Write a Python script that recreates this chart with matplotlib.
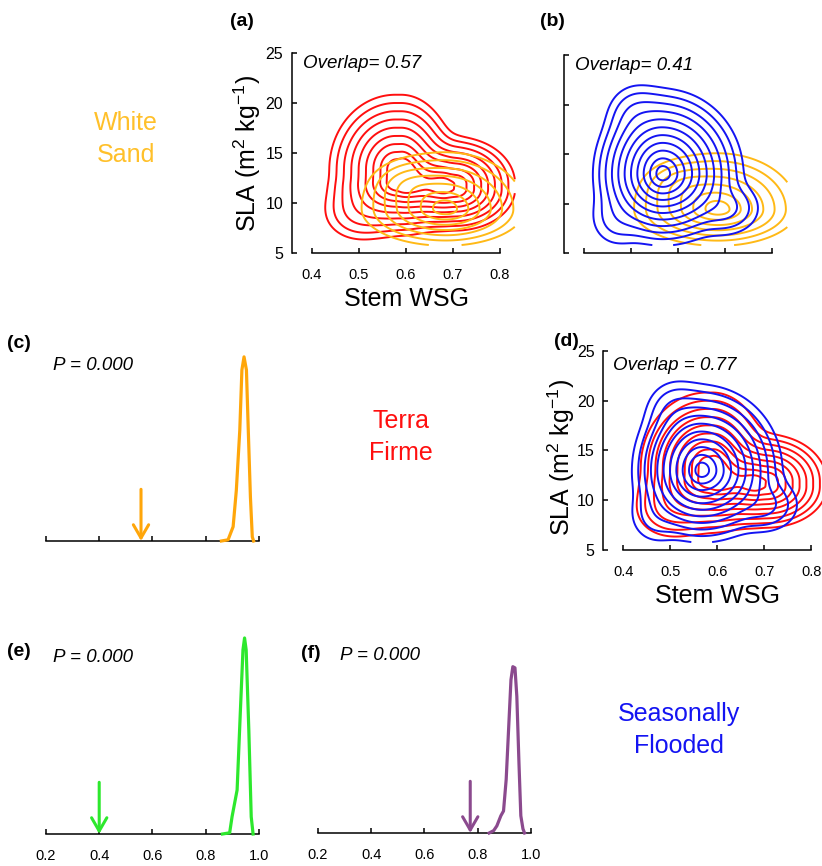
import numpy as np
import matplotlib
matplotlib.use('Agg')
import matplotlib.pyplot as plt

plt.rcParams['font.family'] = ['Liberation Sans', 'DejaVu Sans']
plt.rcParams['mathtext.fontset'] = 'custom'
plt.rcParams['mathtext.rm'] = 'Liberation Sans'
plt.rcParams['mathtext.it'] = 'Liberation Sans:italic'

# ---------------- data ----------------
# Bivariate trait densities (x = Stem WSG, y = SLA) described as a few
# flat-topped split-normal components: core x-range, core y-range,
# spreads (left, right, low, high) and relative height.
# White sand
ws_x0 = [0.685, 0.60]
ws_x1 = [0.685, 0.60]
ws_y0 = [9.4, 12.0]
ws_y1 = [9.4, 12.0]
ws_sxl = [0.085, 0.04]
ws_sxr = [0.08, 0.04]
ws_syl = [1.75, 1.2]
ws_syh = [2.7, 1.2]
ws_w = [1.0, 0.15]
ws_levels = [0.3, 0.6, 0.9, 1.2, 1.5, 1.8, 2.1]

# Terra firme
tf_x0 = [0.578, 0.69, 0.50]
tf_x1 = [0.590, 0.707, 0.50]
tf_y0 = [12.1, 11.4, 9.0]
tf_y1 = [13.4, 11.9, 9.0]
tf_sxl = [0.052, 0.045, 0.04]
tf_sxr = [0.042, 0.047, 0.04]
tf_syl = [1.96, 1.55, 1.5]
tf_syh = [2.75, 1.75, 1.5]
tf_w = [1.0, 0.93, 0.1]
tf_levels = [0.3, 0.6, 0.9, 1.2, 1.5, 1.8, 2.1, 2.4, 2.7]

# Seasonally flooded
sf_x0 = [0.567, 0.70, 0.51, 0.47]
sf_x1 = [0.567, 0.70, 0.51, 0.47]
sf_y0 = [13.0, 9.5, 19.0, 8.5]
sf_y1 = [13.0, 9.5, 19.0, 8.5]
sf_sxl = [0.045, 0.035, 0.03, 0.03]
sf_sxr = [0.052, 0.035, 0.03, 0.03]
sf_syl = [2.2, 1.3, 1.5, 1.5]
sf_syh = [2.6, 1.3, 1.5, 1.5]
sf_w = [1.0, 0.03, 0.02, 0.015]
sf_levels = [0.3, 0.6, 0.9, 1.2, 1.5, 1.8, 2.1, 2.4, 2.7, 3.0, 3.3]

grid_x_range = [0.30, 0.832]
grid_y_range = [5.8, 26.0]

overlap_ab = ["Overlap= 0.57", "Overlap= 0.41"]
overlap_d = "Overlap = 0.77"

# Null distributions of overlap (c, e, f) and observed values (arrows)
null_c_x = [0.859, 0.884, 0.903, 0.915, 0.928, 0.936, 0.944, 0.953, 0.960, 0.968, 0.975, 0.980]
null_c_y = [0, 0.2, 2.4, 8.5, 18.6, 28.8, 31.0, 28.8, 18.6, 7.4, 0.7, 0]
null_e_x = [0.863, 0.890, 0.899, 0.918, 0.930, 0.940, 0.946, 0.952, 0.962, 0.971, 0.978]
null_e_y = [0, 0.2, 2.9, 7.4, 20.4, 31.0, 33.0, 31.0, 17.5, 2.9, 0]
null_f_x = [0.843, 0.860, 0.872, 0.887, 0.897, 0.907, 0.916, 0.925, 0.932, 0.940, 0.947, 0.955, 0.962, 0.970, 0.976]
null_f_y = [0, 0.4, 1.2, 2.9, 3.7, 9.0, 17.4, 25.8, 28.0, 27.8, 23.0, 11.8, 2.9, 0.7, 0]
observed = [0.557, 0.40, 0.772]
p_values = ["P = 0.000", "P = 0.000", "P = 0.000"]

wsg_ticks = [0.4, 0.5, 0.6, 0.7, 0.8]
sla_ticks = [5, 10, 15, 20, 25]
null_ticks = [0.2, 0.4, 0.6, 0.8, 1.0]

# ---------------- styles ----------------
C_WS = '#FFB916'
C_WS_TXT = '#FFC02A'
C_WS_CURVE = '#FFA60A'
C_TF = '#FF0F0F'
C_SF = '#1414F2'
C_GREEN = '#2DE82D'
C_PURPLE = '#8B4A8E'

W, H = 822, 866
fig = plt.figure(figsize=(W / 100, H / 100), dpi=100)


def add_ax(left, top, width, height):
    return fig.add_axes([left / W, 1 - (top + height) / H, width / W, height / H])


def ftext(x, y, s, **kw):
    fig.text(x / W, 1 - y / H, s, **kw)


gx = np.linspace(grid_x_range[0], grid_x_range[1], 450)
gy = np.linspace(grid_y_range[0], grid_y_range[1], 450)
GX, GY = np.meshgrid(gx, gy)


def core_dist(G, lo, hi, s_lo, s_hi):
    return np.where(G < lo, (G - lo) / s_lo, np.where(G > hi, (G - hi) / s_hi, 0.0))


def radius_field(x0, x1, y0, y1, sxl, sxr, syl, syh, w):
    f = np.zeros_like(GX)
    for i in range(len(x0)):
        dx = core_dist(GX, x0[i], x1[i], sxl[i], sxr[i])
        dy = core_dist(GY, y0[i], y1[i], syl[i], syh[i])
        f += w[i] * np.exp(-0.5 * (dx ** 2 + dy ** 2))
    f = np.clip(f, 1e-300, 1.0)
    return np.sqrt(-2 * np.log(f))


Z_ws = radius_field(ws_x0, ws_x1, ws_y0, ws_y1, ws_sxl, ws_sxr, ws_syl, ws_syh, ws_w)
Z_tf = radius_field(tf_x0, tf_x1, tf_y0, tf_y1, tf_sxl, tf_sxr, tf_syl, tf_syh, tf_w)
Z_sf = radius_field(sf_x0, sf_x1, sf_y0, sf_y1, sf_sxl, sf_sxr, sf_syl, sf_syh, sf_w)


def style_contour_ax(ax, labels):
    ax.set_xlim(0.357, 0.835)
    ax.set_ylim(5, 25)
    for s in ['top', 'right']:
        ax.spines[s].set_visible(False)
    ax.spines['left'].set_bounds(5, 25)
    ax.spines['bottom'].set_bounds(0.4, 0.8)
    for s in ['left', 'bottom']:
        ax.spines[s].set_linewidth(1.1)
    ax.set_xticks(wsg_ticks)
    ax.set_yticks(sla_ticks)
    ax.set_xticklabels([f"{t:.1f}" for t in wsg_ticks])
    ax.set_yticklabels([str(t) for t in sla_ticks])
    ax.tick_params(direction='in', length=3.5, width=1.1)
    ax.tick_params(axis='x', pad=10.5, labelsize=10.5)
    ax.tick_params(axis='y', pad=6, labelsize=11.5)
    if not labels:
        ax.tick_params(labelbottom=False, labelleft=False)
    ax.patch.set_alpha(0)


LW = 1.4
# (a)
ax_a = add_ax(291.5, 53, 224.7, 200)
ax_a.contour(GX, GY, Z_tf, levels=tf_levels, colors=C_TF, linewidths=LW)
ax_a.contour(GX, GY, Z_ws, levels=ws_levels, colors=C_WS, linewidths=LW)
style_contour_ax(ax_a, True)

# (b)
ax_b = add_ax(564, 55, 224.7, 198)
ax_b.contour(GX, GY, Z_ws, levels=ws_levels, colors=C_WS, linewidths=LW)
ax_b.contour(GX, GY, Z_sf, levels=sf_levels, colors=C_SF, linewidths=LW)
style_contour_ax(ax_b, False)

# (d)
ax_d = add_ax(603, 351, 224.7, 199)
ax_d.contour(GX, GY, Z_tf, levels=tf_levels, colors=C_TF, linewidths=LW)
ax_d.contour(GX, GY, Z_sf, levels=sf_levels, colors=C_SF, linewidths=LW)
style_contour_ax(ax_d, True)


def null_panel(left, baseline, xs, ys, obs, color, labels):
    height = 237.6
    ax = add_ax(left, baseline - height, 218.3, height)
    ax.plot(xs, ys, color=color, lw=2.3, solid_joinstyle='round', clip_on=False, zorder=3)
    ax.annotate('', xy=(obs, 0), xytext=(obs, 8.7),
                arrowprops=dict(arrowstyle='->,head_length=0.95,head_width=0.55',
                                color=color, lw=2.2, shrinkA=0, shrinkB=0))
    ax.set_xlim(0.19, 1.01)
    ax.set_ylim(0, 40)
    for s in ['top', 'right', 'left']:
        ax.spines[s].set_visible(False)
    ax.spines['bottom'].set_bounds(0.2, 1.0)
    ax.spines['bottom'].set_linewidth(1.1)
    ax.set_yticks([])
    ax.set_xticks(null_ticks)
    ax.set_xticklabels([f"{t:.1f}" for t in null_ticks])
    ax.tick_params(axis='x', direction='in', length=3.5, width=1.1, labelsize=10.5, pad=10.5)
    if not labels:
        ax.tick_params(labelbottom=False)
    ax.patch.set_alpha(0)
    return ax


null_panel(43.3, 541, null_c_x, null_c_y, observed[0], C_WS_CURVE, False)
null_panel(43.3, 834, null_e_x, null_e_y, observed[1], C_GREEN, True)
null_panel(315.3, 833, null_f_x, null_f_y, observed[2], C_PURPLE, True)

# ---------------- texts ----------------
bold = dict(fontsize=14, fontweight='bold', ha='center', va='center')
ftext(242, 22, '(a)', **bold)
ftext(552, 22, '(b)', **bold)
ftext(19, 343, '(c)', **bold)
ftext(566, 342, '(d)', **bold)
ftext(19, 651, '(e)', **bold)
ftext(311, 653, '(f)', **bold)

it = dict(fontsize=13.5, style='italic', ha='left', va='center')
ftext(303, 64, overlap_ab[0], **it)
ftext(575, 65, overlap_ab[1], **it)
ftext(613, 365, overlap_d, **it)
ftext(53, 365, p_values[0], **it)
ftext(53, 657, p_values[1], **it)
ftext(340, 656, p_values[2], **it)

grp = dict(fontsize=18, ha='center', va='center', multialignment='center', linespacing=1.45)
ftext(126, 139, 'White\nSand', color=C_WS_TXT, **grp)
ftext(401, 437, 'Terra\nFirme', color=C_TF, **grp)
ftext(679, 730, 'Seasonally\nFlooded', color=C_SF, **grp)

ylab = r'SLA (m$^{\mathregular{2}}$ kg$^{\mathregular{-1}}$)'
ftext(247, 153, ylab, fontsize=18, rotation=90, ha='center', va='center')
ftext(561, 457, ylab, fontsize=18, rotation=90, ha='center', va='center')
ftext(406, 306, 'Stem WSG', fontsize=18, ha='center', va='baseline')
ftext(717, 603, 'Stem WSG', fontsize=18, ha='center', va='baseline')

fig.savefig('out.png', dpi=100)
